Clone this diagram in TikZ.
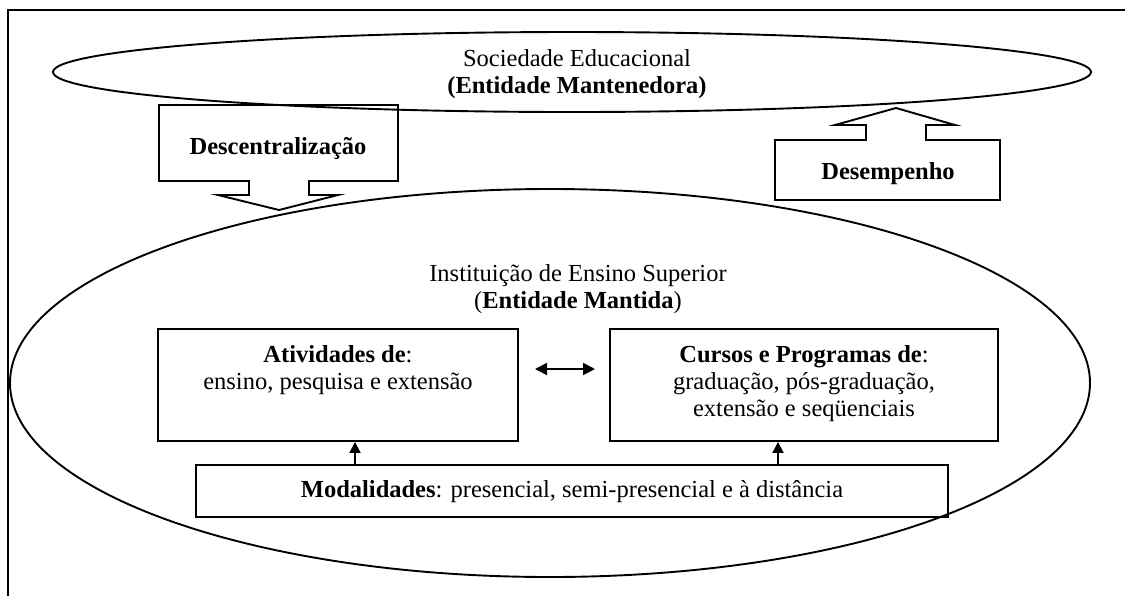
\documentclass[tikz,border=0pt]{standalone}
\usepackage{fontspec}
\setmainfont{Liberation Serif}
\usetikzlibrary{shapes.geometric,arrows.meta}
\begin{document}
\begin{tikzpicture}[x=0.5pt,y=-0.5pt,
  ln/.style={line width=0.95pt},
  boxnode/.style={draw,line width=0.95pt,rectangle,inner sep=0pt},
  ell/.style={draw,line width=0.95pt,ellipse,inner sep=0pt},
  lbl/.style={align=center,inner sep=0pt,font=\fontsize{12.25}{13.5}\selectfont},
  arr/.style={line width=0.95pt,-{Triangle[length=5.5pt,width=5.5pt]}},
  darr/.style={line width=0.95pt,{Triangle[length=6pt,width=6pt]}-{Triangle[length=6pt,width=6pt]}}]
\useasboundingbox (0,0) rectangle (1125,596);
% frame
\draw[ln] (1125,10) -- (8,10) -- (8,596);
% top ellipse
\node[ell,minimum width=519pt,minimum height=40pt] (soc) at (572,72) {};
\node[lbl] (soct) at (577,74) {Sociedade Educacional\\\textbf{(Entidade Mantenedora)}};
% big ellipse
\node[ell,minimum width=540pt,minimum height=194pt] (ies) at (550,383) {};
\node[lbl] (iest) at (578,289) {Instituição de Ensino Superior\\(\textbf{Entidade Mantida})};
% Descentralizacao block arrow (down)
\draw[ln] (159,105) -- (398,105) -- (398,181) -- (309,181) -- (309,195) -- (338,195)
  -- (279,210) -- (218,195) -- (249,195) -- (249,181) -- (159,181) -- cycle;
\node[lbl] (desc) at (278,148) {\textbf{Descentralização}};
% Desempenho block arrow (up)
\draw[ln] (775,200) -- (1000,200) -- (1000,140) -- (926,140) -- (926,125) -- (955,125)
  -- (896,108) -- (835,125) -- (866,125) -- (866,140) -- (775,140) -- cycle;
\node[lbl] (dese) at (888,174) {\textbf{Desempenho}};
% inner boxes
\node[boxnode,minimum width=180pt,minimum height=56pt] (atv) at (338,385) {};
\node[lbl] (atvt) at (338,370) {\textbf{Atividades de}:\\ensino, pesquisa e extensão};
\node[boxnode,minimum width=194pt,minimum height=56pt] (cur) at (804,385) {};
\node[lbl] (curt) at (804,384) {\textbf{Cursos e Programas de}:\\graduação, pós-graduação,\\extensão e seqüenciais};
\node[boxnode,minimum width=376pt,minimum height=26pt] (mod) at (572,491) {};
\node[lbl] (modt) at (572,492) {\textbf{Modalidades}: presencial, semi-presencial e à distância};
% arrows
\coordinate (a1) at (355,0);
\coordinate (a2) at (778,0);
\draw[arr] (mod.north -| a1) -- (atv.south -| a1);
\draw[arr] (mod.north -| a2) -- (cur.south -| a2);
\coordinate (d1) at (535,369);
\coordinate (d2) at (595,369);
\draw[darr] (d1) -- (d2);
\end{tikzpicture}
\end{document}
